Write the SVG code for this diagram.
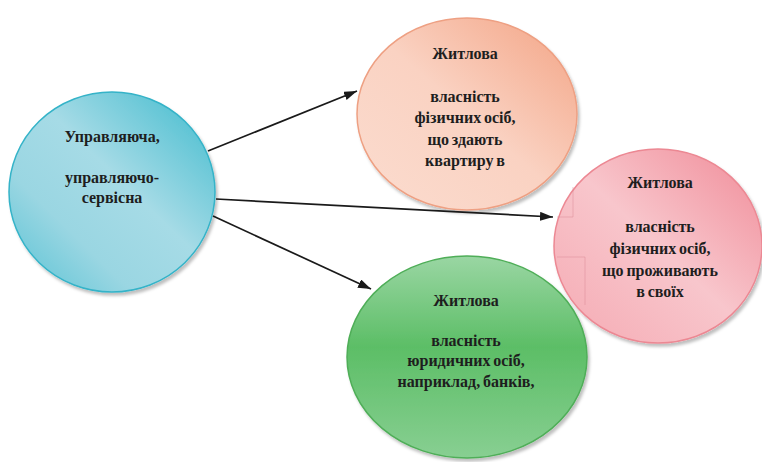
<svg xmlns="http://www.w3.org/2000/svg" width="762" height="462" viewBox="0 0 762 462">
  <defs>
    <style>
      .lbl { fill: #1e1e1e; text-anchor: middle; }
      .conn { stroke: #1a1a1a; stroke-width: 1.7; fill: none; marker-end: url(#arrow); }
      .seam { stroke: #d98a94; stroke-width: 0.8; fill: none; opacity: 0.6; }
    </style>
    <marker id="arrow" markerUnits="userSpaceOnUse" markerWidth="14" markerHeight="10" refX="13" refY="4.5" orient="auto">
      <path d="M0,0 L13,4.5 L0,9 z" fill="#1a1a1a"/>
    </marker>
    <filter id="shadow" x="-10%" y="-10%" width="125%" height="125%">
      <feDropShadow dx="2" dy="3" stdDeviation="1.5" flood-color="#000" flood-opacity="0.25"/>
    </filter>
    <linearGradient id="gBlue" x1="1" y1="0" x2="0" y2="1">
      <stop offset="0" stop-color="#3dbacd"/>
      <stop offset="0.45" stop-color="#a6dbe6"/>
      <stop offset="0.7" stop-color="#9ad6e2"/>
      <stop offset="1" stop-color="#56c2d4"/>
    </linearGradient>
    <linearGradient id="gOrange" x1="1" y1="0" x2="0" y2="1">
      <stop offset="0" stop-color="#f3a384"/>
      <stop offset="0.5" stop-color="#fad2c2"/>
      <stop offset="1" stop-color="#fbdccf"/>
    </linearGradient>
    <linearGradient id="gPink" x1="1" y1="0" x2="0" y2="1">
      <stop offset="0" stop-color="#f08b98"/>
      <stop offset="0.5" stop-color="#f8c6cc"/>
      <stop offset="1" stop-color="#f5aab3"/>
    </linearGradient>
    <linearGradient id="gGreen" x1="0" y1="0" x2="0" y2="1">
      <stop offset="0" stop-color="#9ad6a3"/>
      <stop offset="0.45" stop-color="#5cbe66"/>
      <stop offset="1" stop-color="#88cf92"/>
    </linearGradient>
  </defs>

  <rect width="762" height="462" fill="#ffffff"/>

  <g font-family="Liberation Serif, Times New Roman, DejaVu Serif, serif" font-weight="bold" font-size="16" word-spacing="-1.2">
    <g id="node-manager">
      <ellipse cx="112" cy="192" rx="103" ry="100" fill="url(#gBlue)" stroke="#34b3c8" stroke-width="1.5" filter="url(#shadow)"/>
      <text class="lbl" x="112" y="142">Управляюча,</text>
      <text class="lbl" x="112" y="183">управляючо-</text>
      <text class="lbl" x="112" y="203">сервісна</text>
    </g>

    <g id="node-rent">
      <ellipse cx="467" cy="114" rx="110" ry="96" fill="url(#gOrange)" stroke="#eea083" stroke-width="1.5" filter="url(#shadow)"/>
      <text class="lbl" x="465" y="59">Житлова</text>
      <text class="lbl" x="465" y="102">власність</text>
      <text class="lbl" x="465" y="123">фізичних осіб,</text>
      <text class="lbl" x="465" y="145">що здають</text>
      <text class="lbl" x="465" y="166">квартиру в</text>
    </g>

    <g id="node-own">
      <ellipse cx="658" cy="246" rx="104" ry="97" fill="url(#gPink)" stroke="#ec8893" stroke-width="1.5" filter="url(#shadow)"/>
      <!-- faint seams inside the left part of the disc -->
      <path class="seam" d="M573,187 V217 H557"/>
      <path class="seam" d="M557,257 H585 V305"/>
      <text class="lbl" x="660" y="188">Житлова</text>
      <text class="lbl" x="660" y="232">власність</text>
      <text class="lbl" x="660" y="254">фізичних осіб,</text>
      <text class="lbl" x="660" y="276">що проживають</text>
      <text class="lbl" x="660" y="297">в своїх</text>
    </g>

    <g id="node-legal">
      <ellipse cx="467" cy="357" rx="120" ry="101" fill="url(#gGreen)" stroke="#4fae58" stroke-width="1.5" filter="url(#shadow)"/>
      <text class="lbl" x="466" y="306">Житлова</text>
      <text class="lbl" x="466" y="346">власність</text>
      <text class="lbl" x="466" y="366">юридичних осіб,</text>
      <text class="lbl" x="466" y="387">наприклад, банків,</text>
    </g>
  </g>

  <g id="connectors">
    <line class="conn" x1="208" y1="151" x2="357" y2="91"/>
    <line class="conn" x1="216" y1="199" x2="553" y2="217"/>
    <line class="conn" x1="213" y1="216" x2="371" y2="289"/>
  </g>
</svg>
